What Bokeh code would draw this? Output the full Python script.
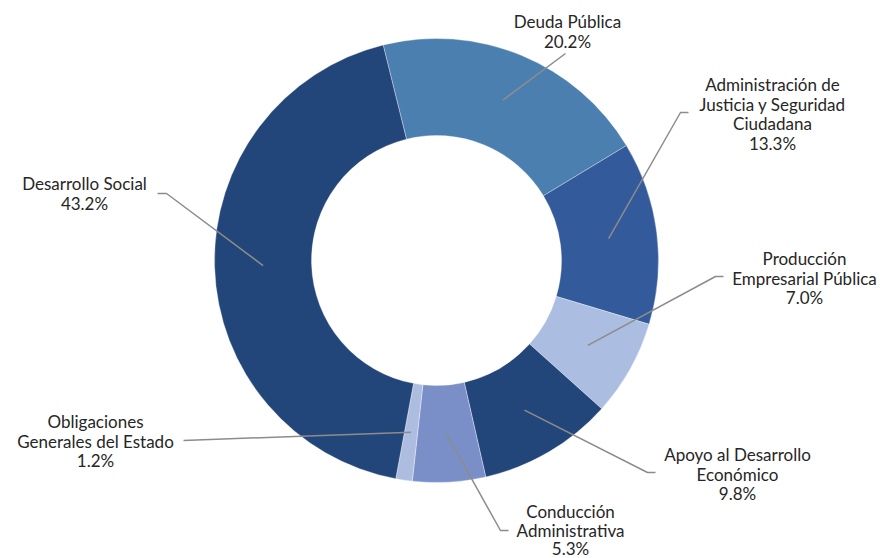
import numpy as np
from bokeh.plotting import figure
from bokeh.models import Range1d, ColumnDataSource
from bokeh.embed import file_html
from bokeh.resources import INLINE
from bokeh.core.properties import value

# ---- data ----
categories = ["Deuda Pública",
              "Administración de\nJusticia y Seguridad\nCiudadana",
              "Producción\nEmpresarial Pública",
              "Apoyo al Desarrollo\nEconómico",
              "Conducción\nAdministrativa",
              "Obligaciones\nGenerales del Estado",
              "Desarrollo Social"]
shares = [20.2, 13.3, 7.0, 9.8, 5.3, 1.2, 43.2]
colors = ["#4A7FB0", "#335A9A", "#ABBDE0", "#23467A", "#7A8FC8", "#ADBDDF", "#23467A"]

# ---- layout (picture pixel coordinates, origin top-left) ----
label_pos = [(567, 21), (772, 84), (804, 258), (737, 454), (570, 511), (95, 421), (84, 183)]
label_gap = [19.6, 19.6, 19.6, 19.6, 18.6, 19.6, 19.6]
elbows = [(565, 53), (680, 112), (715, 276), (647, 472), (500, 530), (183, 440), (166, 193)]
ends = [(565, 53), (688, 112), (723, 276), (655, 472), (508, 530), (183, 440), (157, 193)]

W, H = 883, 558
def px(x): return x
def py(y): return H - y

cx, cy = px(436), py(260)
r_out, r_in = 222, 125
start_deg = -13.9

fr = np.array(shares) / sum(shares)
cum = np.concatenate([[0], np.cumsum(fr)]) * 360 + start_deg
a0, a1 = cum[:-1], cum[1:]

p = figure(width=W, height=H, output_backend="svg", toolbar_location=None,
           x_range=Range1d(0, W), y_range=Range1d(0, H), min_border=0)
p.axis.visible = False
p.grid.visible = False
p.outline_line_color = None
p.background_fill_color = "white"

src = ColumnDataSource(dict(x=[cx]*len(shares), y=[cy]*len(shares),
                            sa=np.deg2rad(90 - a0), ea=np.deg2rad(90 - a1),
                            color=colors, cat=categories, share=shares))
p.annular_wedge(x="x", y="y", inner_radius=r_in, outer_radius=r_out,
                start_angle="sa", end_angle="ea", direction="clock",
                fill_color="color", line_color="white", line_width=0.5,
                line_alpha=0.7, source=src)

# leader lines
mid = np.deg2rad((a0 + a1) / 2)
rm = (r_in + r_out) / 2
xs, ys = [], []
for i in range(len(shares)):
    sx = cx + rm * np.sin(mid[i])
    sy = cy + rm * np.cos(mid[i])
    ex, ey = elbows[i]
    fx, fy = ends[i]
    xs.append([sx, px(ex), px(fx)])
    ys.append([sy, py(ey), py(fy)])
p.multi_line(xs=xs, ys=ys, line_color="#8C8C8C", line_width=1.5)

# labels
tx, ty, tt = [], [], []
for i, cat in enumerate(categories):
    lines = cat.split("\n") + [f"{shares[i]:.1f}%"]
    lx, ly = label_pos[i]
    for j, ln in enumerate(lines):
        tx.append(px(lx))
        ty.append(py(ly + j * label_gap[i]))
        tt.append(ln)
p.text(x=tx, y=ty, text=tt, text_align="center", text_baseline="middle",
       text_font=value("Lato"), text_font_size="17px", text_color="#262626")

open("out.html", "w").write(file_html(p, INLINE))
